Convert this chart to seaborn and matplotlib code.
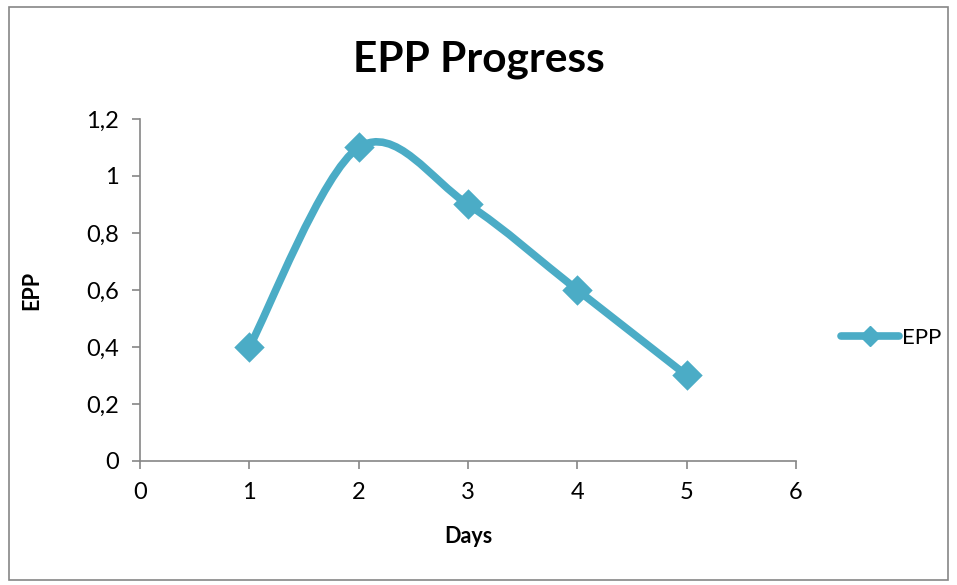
import seaborn as sns
import matplotlib.pyplot as plt
import pandas as pd
from matplotlib.path import Path
from matplotlib.patches import PathPatch, Rectangle
from matplotlib.lines import Line2D
from matplotlib.ticker import FuncFormatter

# data
days = [1, 2, 3, 4, 5]
epp = [0.4, 1.1, 0.9, 0.6, 0.3]
series_name = 'EPP'

color = '#4BACC6'
axis_grey = '#868686'

sns.set_style('white')
plt.rcParams['font.family'] = ['Lato', 'DejaVu Sans']
plt.rcParams['text.color'] = 'black'
plt.rcParams['axes.labelcolor'] = 'black'
plt.rcParams['xtick.color'] = 'black'
plt.rcParams['ytick.color'] = 'black'

fig = plt.figure(figsize=(9.57, 5.85), dpi=100)
ax = fig.add_axes([0.1463, 0.2120, 0.6855, 0.5846])

# chart frame (Excel-style outer border)
fig.patches.append(Rectangle((0.009, 0.008), 0.982, 0.980, transform=fig.transFigure,
                             fill=False, edgecolor=axis_grey, linewidth=1.2))

df = pd.DataFrame({'Days': days, 'EPP': epp})

# smoothed line like Excel "scatter with smooth lines" (Catmull-Rom -> Bezier)
pts = list(zip(days, epp))
verts = [pts[0]]
codes = [Path.MOVETO]
for i in range(len(pts) - 1):
    p0 = pts[i - 1] if i > 0 else pts[i]
    p1 = pts[i]
    p2 = pts[i + 1]
    p3 = pts[i + 2] if i + 2 < len(pts) else pts[i + 1]
    c1 = (p1[0] + (p2[0] - p0[0]) / 6, p1[1] + (p2[1] - p0[1]) / 6)
    c2 = (p2[0] - (p3[0] - p1[0]) / 6, p2[1] - (p3[1] - p1[1]) / 6)
    verts += [c1, c2, p2]
    codes += [Path.CURVE4] * 3
ax.add_patch(PathPatch(Path(verts, codes), fill=False, edgecolor=color,
                       linewidth=5.5, capstyle='round', joinstyle='round', zorder=2))

sns.scatterplot(data=df, x='Days', y='EPP', marker='D', s=240, color=color,
                edgecolor=color, linewidth=0, ax=ax, zorder=3, legend=False)

ax.set_xlim(0, 6)
ax.set_ylim(0, 1.2)
ax.set_xticks(range(0, 7))
ax.set_yticks([0, 0.2, 0.4, 0.6, 0.8, 1.0, 1.2])
ax.yaxis.set_major_formatter(FuncFormatter(lambda v, p: ('%g' % round(v, 1)).replace('.', ',')))

for side in ['top', 'right']:
    ax.spines[side].set_visible(False)
for side in ['left', 'bottom']:
    ax.spines[side].set_color(axis_grey)
    ax.spines[side].set_linewidth(1.2)
ax.tick_params(axis='both', which='major', direction='out', length=6, width=1.2,
               color=axis_grey, labelcolor='black', labelsize=17, pad=9,
               left=True, bottom=True)

ax.set_xlabel('Days', fontsize=15.5, fontweight='bold', labelpad=17)
ax.set_ylabel('EPP', fontsize=15.5, fontweight='bold', labelpad=32)
fig.suptitle('EPP Progress', fontsize=30.5, fontweight='bold', y=0.93)

handle = Line2D([0], [0], color=color, linewidth=5.5, marker='D', markersize=10,
                solid_capstyle='round')
ax.legend([handle], [series_name], loc='center left', bbox_to_anchor=(1.055, 0.36),
          frameon=False, fontsize=16, handlelength=2.6, handletextpad=0.15,
          borderaxespad=0.0)

fig.savefig('out.png', dpi=100)
